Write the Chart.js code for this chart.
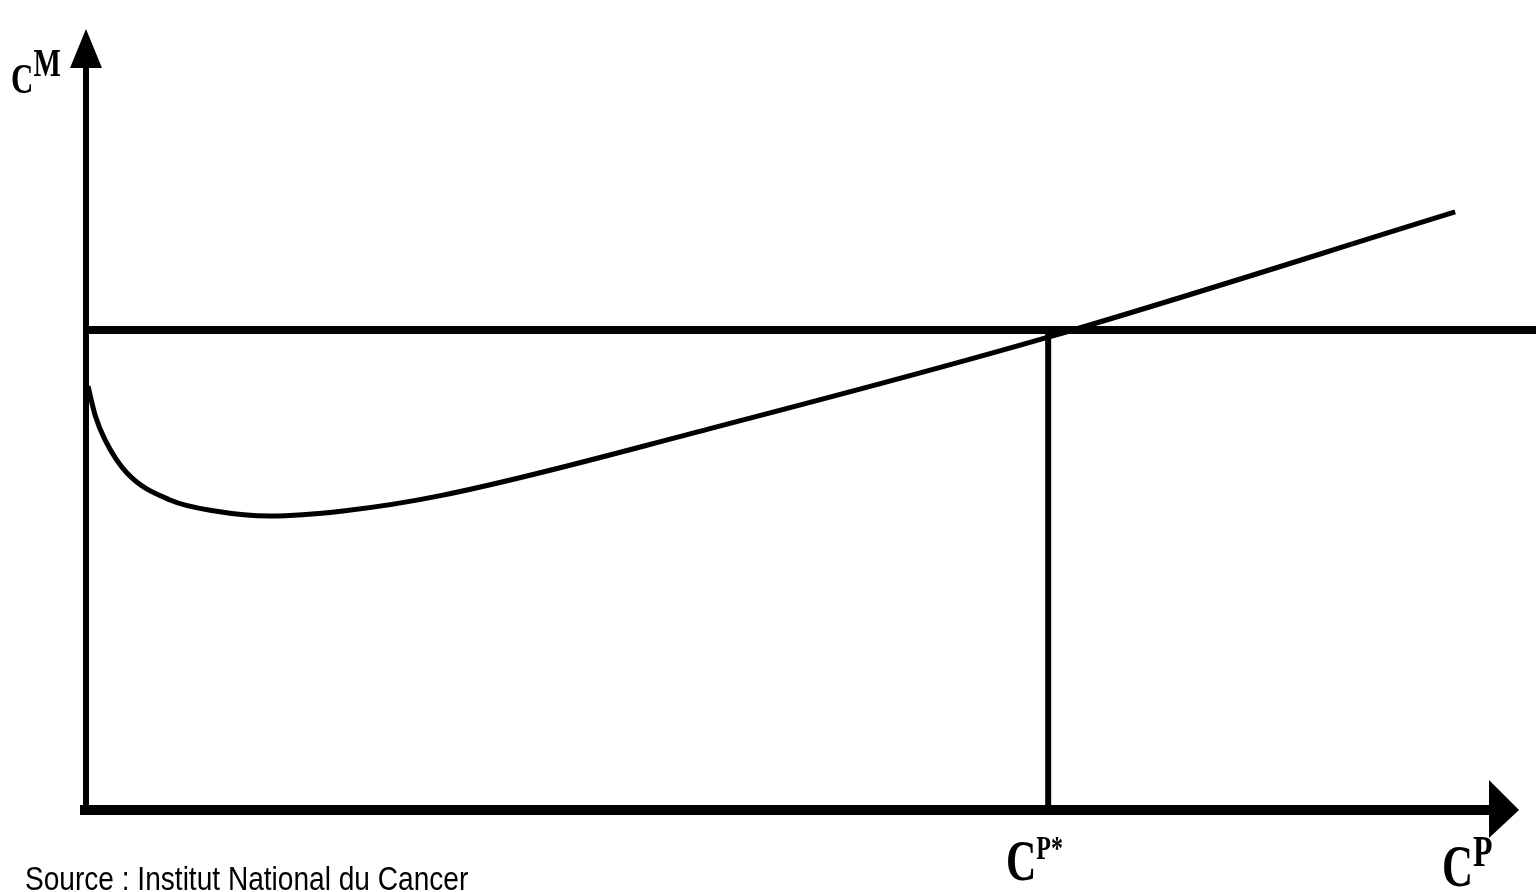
<!DOCTYPE html>
<html>
<head>
<meta charset="utf-8">
<script src="https://cdn.jsdelivr.net/npm/chart.js@4.4.1/dist/chart.umd.min.js"></script>
<style>
  html, body { margin: 0; padding: 0; background: #fff; }
  #wrap { position: relative; width: 1536px; height: 892px; overflow: hidden; }
  canvas { position: absolute; left: 0; top: 0; }
  .lbl { position: absolute; font-family: "Liberation Serif", "DejaVu Serif", serif; font-weight: bold; color: #000; line-height: 1; white-space: nowrap; transform-origin: 0 0; }
  .lbl sup { font-size: inherit; vertical-align: baseline; position: relative; }
  #src { position: absolute; left: 25px; top: 863px; font-family: "Liberation Sans", "DejaVu Sans", sans-serif; font-size: 24px; color: #000; white-space: nowrap; transform: scale(1.17, 1.35); transform-origin: 0 0; line-height: 1; }
</style>
</head>
<body>
<div id="wrap">
  <canvas id="c" width="1536" height="892"></canvas>
  <div class="lbl" id="lblY" style="left:11px; top:58px; font-size:31px; transform:scale(1,1.36);">C<sup style="font-size:29px; top:-13px;">M</sup></div>
  <div class="lbl" id="lblStar" style="left:1006px; top:832px; font-size:42px; transform:scale(1,1.36);">C<sup style="font-size:24px; top:-15px;">P*</sup></div>
  <div class="lbl" id="lblX" style="left:1442px; top:837px; font-size:43px; transform:scale(1,1.36);">C<sup style="font-size:32px; top:-15px;">P</sup></div>
  <div id="src">Source : Institut National du Cancer</div>
</div>
<script>
// ---- data ----
const curveX = [0.021, 0.094, 0.198, 0.426, 0.873, 1.341, 1.913, 2.672, 3.711, 6.476, 10.0, 14.23];
const curveY = [8.83, 8.23, 7.71, 7.02, 6.46, 6.23, 6.125, 6.23, 6.56, 7.94, 9.85, 12.46];
const levelM = 10;     // horizontal level C^M*
const cStar = 10;      // C^P* on the horizontal axis
const xRange = [0, 15.07];
const yRange = [0, 16];

const curveData = curveX.map((x, i) => ({ x: x, y: curveY[i] }));
const levelData = [{ x: xRange[0], y: levelM }, { x: xRange[1], y: levelM }];
const starData = [{ x: cStar, y: 0 }, { x: cStar, y: levelM }];

const axesPlugin = {
  id: 'arrowAxes',
  afterDatasetsDraw(chart) {
    const ctx = chart.ctx;
    const xs = chart.scales.x, ys = chart.scales.y;
    const x0 = xs.getPixelForValue(0);
    const y0 = ys.getPixelForValue(0);
    ctx.save();
    ctx.fillStyle = '#000';
    ctx.strokeStyle = '#000';
    ctx.lineCap = 'butt';
    // y axis
    ctx.lineWidth = 6;
    ctx.beginPath();
    ctx.moveTo(x0, y0 + 4);
    ctx.lineTo(x0, 64);
    ctx.stroke();
    ctx.beginPath();
    ctx.moveTo(x0, 29);
    ctx.lineTo(x0 - 16, 68);
    ctx.lineTo(x0 + 16, 68);
    ctx.closePath();
    ctx.fill();
    // x axis
    ctx.lineWidth = 10;
    ctx.beginPath();
    ctx.moveTo(x0 - 6, y0);
    ctx.lineTo(1494, y0);
    ctx.stroke();
    ctx.beginPath();
    ctx.moveTo(1519, y0);
    ctx.lineTo(1489, y0 - 30);
    ctx.lineTo(1489, y0 + 28);
    ctx.closePath();
    ctx.fill();
    ctx.restore();
  }
};

new Chart(document.getElementById('c'), {
  type: 'scatter',
  data: {
    datasets: [
      { label: 'level', data: levelData, showLine: true, borderColor: '#000', borderWidth: 8, pointRadius: 0, fill: false },
      { label: 'cstar', data: starData, showLine: true, borderColor: '#000', borderWidth: 6, pointRadius: 0, fill: false },
      { label: 'curve', data: curveData, showLine: true, borderColor: '#000', borderWidth: 5, pointRadius: 0, fill: false, cubicInterpolationMode: 'monotone' }
    ]
  },
  options: {
    responsive: false,
    animation: false,
    events: [],
    layout: { padding: { left: 86, right: 0, top: 42, bottom: 82 } },
    plugins: { legend: { display: false }, tooltip: { enabled: false } },
    scales: {
      x: { type: 'linear', min: xRange[0], max: xRange[1], display: false },
      y: { type: 'linear', min: yRange[0], max: yRange[1], display: false }
    }
  },
  plugins: [axesPlugin]
});
</script>
</body>
</html>
